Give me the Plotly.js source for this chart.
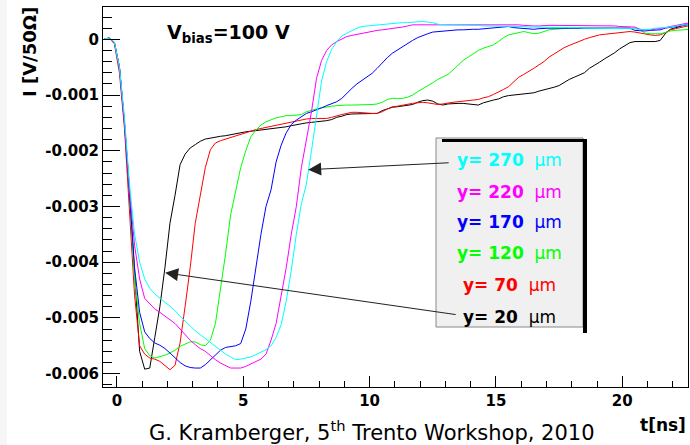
<!DOCTYPE html>
<html><head><meta charset="utf-8">
<script src="https://cdn.plot.ly/plotly-3.0.1.min.js"></script>
<style>html,body{margin:0;padding:0;background:#fff;} #chart{width:690px;height:445px;}</style>
</head><body><div id="chart"></div>
<script>
// time axis of the sampled waveforms [ns]
const T0 = -0.5, DT = 0.2;

// induced current I [V/50 Ohm] for each position y
const i20 = [
 0.01e-3, 0.02e-3, -0.05e-3, -0.5e-3, -1.5e-3, -2.7e-3, -4.2e-3, -5.6e-3, -5.92e-3, -5.9e-3,
 -5.35e-3, -4.8e-3, -4.1e-3, -3.3e-3, -2.8e-3, -2.25e-3, -2.06e-3, -1.95e-3, -1.89e-3, -1.83e-3,
 -1.79e-3, -1.77e-3, -1.75e-3, -1.74e-3, -1.73e-3, -1.71e-3, -1.70e-3, -1.68e-3, -1.66e-3, -1.65e-3,
 -1.64e-3, -1.63e-3, -1.62e-3, -1.61e-3, -1.60e-3, -1.58e-3, -1.57e-3, -1.55e-3, -1.53e-3, -1.51e-3,
 -1.50e-3, -1.49e-3, -1.48e-3, -1.48e-3, -1.46e-3, -1.44e-3, -1.40e-3, -1.38e-3, -1.35e-3, -1.34e-3,
 -1.34e-3, -1.34e-3, -1.34e-3, -1.33e-3, -1.33e-3, -1.28e-3, -1.25e-3, -1.22e-3, -1.21e-3, -1.20e-3,
 -1.18e-3, -1.17e-3, -1.13e-3, -1.10e-3, -1.09e-3, -1.11e-3, -1.16e-3, -1.18e-3, -1.16e-3, -1.15e-3,
 -1.15e-3, -1.15e-3, -1.16e-3, -1.18e-3, -1.18e-3, -1.14e-3, -1.11e-3, -1.09e-3, -1.07e-3, -1.03e-3,
 -1.01e-3, -1.00e-3, -1.00e-3, -0.99e-3, -0.98e-3, -0.96e-3, -0.93e-3, -0.91e-3, -0.89e-3, -0.86e-3,
 -0.83e-3, -0.77e-3, -0.72e-3, -0.68e-3, -0.64e-3, -0.60e-3, -0.52e-3, -0.47e-3, -0.41e-3, -0.35e-3,
 -0.30e-3, -0.24e-3, -0.17e-3, -0.11e-3, -0.06e-3, -0.04e-3, -0.04e-3, -0.05e-3, -0.04e-3, -0.04e-3,
 -0.02e-3, 0.10e-3, 0.18e-3, 0.21e-3, 0.23e-3, 0.26e-3, 0.28e-3
];
const i70 = [
 0.01e-3, 0.02e-3, -0.08e-3, -0.6e-3, -1.6e-3, -3.0e-3, -4.6e-3, -5.5e-3, -5.65e-3, -5.72e-3,
 -5.74e-3, -5.78e-3, -5.86e-3, -5.93e-3, -5.85e-3, -5.45e-3, -4.79e-3, -4.1e-3, -3.3e-3, -2.8e-3,
 -2.3e-3, -1.98e-3, -1.86e-3, -1.82e-3, -1.79e-3, -1.77e-3, -1.73e-3, -1.70e-3, -1.67e-3, -1.64e-3,
 -1.62e-3, -1.60e-3, -1.58e-3, -1.56e-3, -1.54e-3, -1.52e-3, -1.50e-3, -1.48e-3, -1.47e-3, -1.45e-3,
 -1.43e-3, -1.42e-3, -1.42e-3, -1.42e-3, -1.42e-3, -1.40e-3, -1.37e-3, -1.35e-3, -1.33e-3, -1.31e-3,
 -1.31e-3, -1.32e-3, -1.33e-3, -1.33e-3, -1.33e-3, -1.30e-3, -1.25e-3, -1.21e-3, -1.20e-3, -1.18e-3,
 -1.16e-3, -1.15e-3, -1.14e-3, -1.13e-3, -1.14e-3, -1.16e-3, -1.17e-3, -1.16e-3, -1.14e-3, -1.13e-3,
 -1.12e-3, -1.11e-3, -1.10e-3, -1.09e-3, -1.08e-3, -1.05e-3, -1.03e-3, -0.99e-3, -0.95e-3, -0.90e-3,
 -0.85e-3, -0.76e-3, -0.68e-3, -0.63e-3, -0.58e-3, -0.52e-3, -0.46e-3, -0.40e-3, -0.32e-3, -0.26e-3,
 -0.20e-3, -0.15e-3, -0.11e-3, -0.07e-3, -0.03e-3, 0.00e-3, 0.03e-3, 0.06e-3, 0.08e-3, 0.09e-3,
 0.10e-3, 0.11e-3, 0.12e-3, 0.13e-3, 0.14e-3, 0.13e-3, 0.11e-3, 0.09e-3, 0.08e-3, 0.07e-3,
 0.08e-3, 0.12e-3, 0.17e-3, 0.19e-3, 0.21e-3, 0.23e-3, 0.25e-3
];
const i120 = [
 0.01e-3, 0.02e-3, -0.06e-3, -0.5e-3, -1.5e-3, -2.8e-3, -4.3e-3, -5.1e-3, -5.55e-3, -5.68e-3,
 -5.72e-3, -5.70e-3, -5.67e-3, -5.63e-3, -5.58e-3, -5.51e-3, -5.47e-3, -5.43e-3, -5.43e-3, -5.48e-3,
 -5.50e-3, -5.40e-3, -5.10e-3, -4.50e-3, -3.85e-3, -3.15e-3, -2.75e-3, -2.30e-3, -2.00e-3, -1.75e-3,
 -1.63e-3, -1.54e-3, -1.48e-3, -1.44e-3, -1.41e-3, -1.39e-3, -1.37e-3, -1.37e-3, -1.36e-3, -1.35e-3,
 -1.30e-3, -1.27e-3, -1.25e-3, -1.23e-3, -1.21e-3, -1.20e-3, -1.19e-3, -1.18e-3, -1.18e-3, -1.18e-3,
 -1.18e-3, -1.18e-3, -1.18e-3, -1.17e-3, -1.16e-3, -1.13e-3, -1.08e-3, -1.06e-3, -1.06e-3, -1.06e-3,
 -1.04e-3, -1.00e-3, -0.94e-3, -0.89e-3, -0.84e-3, -0.78e-3, -0.72e-3, -0.68e-3, -0.63e-3, -0.55e-3,
 -0.46e-3, -0.38e-3, -0.32e-3, -0.26e-3, -0.20e-3, -0.16e-3, -0.13e-3, -0.10e-3, -0.04e-3, 0.03e-3,
 0.08e-3, 0.10e-3, 0.13e-3, 0.14e-3, 0.12e-3, 0.10e-3, 0.11e-3, 0.14e-3, 0.17e-3, 0.18e-3,
 0.19e-3, 0.20e-3, 0.20e-3, 0.20e-3, 0.20e-3, 0.20e-3, 0.20e-3, 0.20e-3, 0.20e-3, 0.20e-3,
 0.20e-3, 0.20e-3, 0.20e-3, 0.20e-3, 0.20e-3, 0.20e-3, 0.17e-3, 0.11e-3, 0.10e-3, 0.10e-3,
 0.10e-3, 0.12e-3, 0.15e-3, 0.16e-3, 0.17e-3, 0.18e-3, 0.18e-3
];
const i170 = [
 0.01e-3, 0.02e-3, -0.06e-3, -0.5e-3, -1.5e-3, -2.8e-3, -4.1e-3, -4.9e-3, -5.25e-3, -5.37e-3,
 -5.45e-3, -5.49e-3, -5.55e-3, -5.63e-3, -5.72e-3, -5.80e-3, -5.86e-3, -5.89e-3, -5.90e-3, -5.90e-3,
 -5.84e-3, -5.75e-3, -5.66e-3, -5.58e-3, -5.53e-3, -5.51e-3, -5.50e-3, -5.46e-3, -5.20e-3, -4.70e-3,
 -4.10e-3, -3.50e-3, -3.00e-3, -2.70e-3, -2.20e-3, -1.90e-3, -1.68e-3, -1.53e-3, -1.45e-3, -1.39e-3,
 -1.33e-3, -1.30e-3, -1.27e-3, -1.23e-3, -1.19e-3, -1.16e-3, -1.12e-3, -1.06e-3, -0.96e-3, -0.88e-3,
 -0.80e-3, -0.74e-3, -0.67e-3, -0.61e-3, -0.52e-3, -0.42e-3, -0.33e-3, -0.25e-3, -0.19e-3, -0.13e-3,
 -0.07e-3, -0.02e-3, 0.03e-3, 0.07e-3, 0.10e-3, 0.13e-3, 0.14e-3, 0.15e-3, 0.16e-3, 0.17e-3,
 0.17e-3, 0.17e-3, 0.18e-3, 0.18e-3, 0.18e-3, 0.19e-3, 0.20e-3, 0.21e-3, 0.22e-3, 0.23e-3,
 0.23e-3, 0.21e-3, 0.20e-3, 0.19e-3, 0.18e-3, 0.18e-3, 0.19e-3, 0.20e-3, 0.20e-3, 0.20e-3,
 0.20e-3, 0.20e-3, 0.20e-3, 0.20e-3, 0.20e-3, 0.20e-3, 0.20e-3, 0.20e-3, 0.20e-3, 0.20e-3,
 0.20e-3, 0.20e-3, 0.20e-3, 0.20e-3, 0.20e-3, 0.16e-3, 0.15e-3, 0.15e-3, 0.16e-3, 0.16e-3,
 0.17e-3, 0.20e-3, 0.22e-3, 0.23e-3, 0.24e-3, 0.26e-3, 0.27e-3
];
const i220 = [
 0.01e-3, 0.02e-3, -0.06e-3, -0.5e-3, -1.5e-3, -2.7e-3, -3.7e-3, -4.3e-3, -4.65e-3, -4.75e-3,
 -4.84e-3, -4.90e-3, -4.97e-3, -5.03e-3, -5.10e-3, -5.20e-3, -5.30e-3, -5.40e-3, -5.48e-3, -5.55e-3,
 -5.60e-3, -5.68e-3, -5.75e-3, -5.81e-3, -5.86e-3, -5.90e-3, -5.90e-3, -5.90e-3, -5.87e-3, -5.83e-3,
 -5.79e-3, -5.74e-3, -5.65e-3, -5.40e-3, -5.10e-3, -4.60e-3, -4.10e-3, -3.50e-3, -3.00e-3, -2.30e-3,
 -1.80e-3, -1.30e-3, -0.70e-3, -0.38e-3, -0.20e-3, -0.10e-3, -0.04e-3, 0.00e-3, 0.05e-3, 0.07e-3,
 0.09e-3, 0.11e-3, 0.13e-3, 0.15e-3, 0.16e-3, 0.17e-3, 0.18e-3, 0.19e-3, 0.20e-3, 0.22e-3,
 0.24e-3, 0.26e-3, 0.26e-3, 0.26e-3, 0.26e-3, 0.26e-3, 0.26e-3, 0.26e-3, 0.26e-3, 0.26e-3,
 0.26e-3, 0.26e-3, 0.26e-3, 0.27e-3, 0.27e-3, 0.27e-3, 0.27e-3, 0.26e-3, 0.26e-3, 0.26e-3,
 0.26e-3, 0.27e-3, 0.26e-3, 0.25e-3, 0.24e-3, 0.24e-3, 0.24e-3, 0.25e-3, 0.25e-3, 0.25e-3,
 0.25e-3, 0.25e-3, 0.25e-3, 0.24e-3, 0.24e-3, 0.24e-3, 0.25e-3, 0.24e-3, 0.24e-3, 0.24e-3,
 0.24e-3, 0.24e-3, 0.23e-3, 0.23e-3, 0.23e-3, 0.22e-3, 0.18e-3, 0.17e-3, 0.17e-3, 0.18e-3,
 0.19e-3, 0.21e-3, 0.23e-3, 0.25e-3, 0.27e-3, 0.29e-3, 0.30e-3
];
const i270 = [
 0.01e-3, 0.02e-3, -0.05e-3, -0.5e-3, -1.4e-3, -2.6e-3, -3.5e-3, -4.0e-3, -4.3e-3, -4.47e-3,
 -4.57e-3, -4.65e-3, -4.72e-3, -4.79e-3, -4.87e-3, -4.97e-3, -5.06e-3, -5.15e-3, -5.23e-3, -5.30e-3,
 -5.37e-3, -5.43e-3, -5.50e-3, -5.57e-3, -5.65e-3, -5.70e-3, -5.75e-3, -5.74e-3, -5.72e-3, -5.70e-3,
 -5.66e-3, -5.62e-3, -5.57e-3, -5.50e-3, -5.35e-3, -5.12e-3, -4.70e-3, -4.15e-3, -3.50e-3, -2.95e-3,
 -2.60e-3, -2.00e-3, -1.40e-3, -0.75e-3, -0.40e-3, -0.18e-3, -0.04e-3, 0.06e-3, 0.11e-3, 0.16e-3,
 0.20e-3, 0.23e-3, 0.24e-3, 0.25e-3, 0.26e-3, 0.27e-3, 0.28e-3, 0.29e-3, 0.29e-3, 0.30e-3,
 0.30e-3, 0.31e-3, 0.31e-3, 0.32e-3, 0.31e-3, 0.30e-3, 0.27e-3, 0.26e-3, 0.26e-3, 0.26e-3,
 0.26e-3, 0.25e-3, 0.25e-3, 0.25e-3, 0.25e-3, 0.24e-3, 0.24e-3, 0.24e-3, 0.24e-3, 0.24e-3,
 0.24e-3, 0.23e-3, 0.23e-3, 0.23e-3, 0.22e-3, 0.22e-3, 0.22e-3, 0.22e-3, 0.22e-3, 0.22e-3,
 0.22e-3, 0.21e-3, 0.21e-3, 0.21e-3, 0.21e-3, 0.20e-3, 0.20e-3, 0.20e-3, 0.20e-3, 0.20e-3,
 0.20e-3, 0.20e-3, 0.20e-3, 0.20e-3, 0.20e-3, 0.19e-3, 0.17e-3, 0.17e-3, 0.18e-3, 0.20e-3,
 0.20e-3, 0.21e-3, 0.22e-3, 0.24e-3, 0.25e-3, 0.26e-3, 0.27e-3
];

// series, drawn in this order
const positionsUm = [20, 70, 120, 170, 220, 270];
const seriesData = [i20, i70, i120, i170, i220, i270];
const seriesColors = ['#000000', '#ff0000', '#00ff00', '#0000ff', '#ff00ff', '#00ffff'];

// legend (top to bottom)
const legendPositions = [270, 220, 170, 120, 70, 20];
const legendColors = ['#00ffff', '#ff00ff', '#0000ff', '#00ff00', '#ff0000', '#000000'];

// tick labels
const xTickVals = [0, 5, 10, 15, 20];
const xTickText = ['0', '5', '10', '15', '20'];
const yTickVals = [0, -0.001, -0.002, -0.003, -0.004, -0.005, -0.006];
const yTickText = ['0', '-0.001', '-0.002', '-0.003', '-0.004', '-0.005', '-0.006'];

const traces = seriesData.map((ys, i) => ({
  type: 'scatter', mode: 'lines',
  x0: T0, dx: DT, y: ys,
  name: 'y= ' + positionsUm[i] + ' \u03bcm',
  line: {color: seriesColors[i], width: 1, shape: 'linear'},
  hoverinfo: 'skip'
}));

const FB = {family: 'DejaVu Sans', weight: 'bold', color: '#000'};

// paper helpers (plot area 103..688 x 7..387 px)
const L = 103, W = 585, B = 387, H = 380;
const px = v => (v - L) / W;
const py = v => (B - v) / H;

const legendY = [160, 192, 222, 253, 285, 317];
const annotations = [
  {xref: 'paper', yref: 'paper', x: px(29), y: py(52), text: 'I [V/50\u03a9]', textangle: -90,
   showarrow: false, xanchor: 'center', yanchor: 'middle', font: Object.assign({size: 18}, FB)},
  {xref: 'paper', yref: 'paper', x: px(165), y: py(33), text: 'V<sub>bias</sub>=100 V',
   showarrow: false, xanchor: 'left', yanchor: 'middle', font: Object.assign({size: 19}, FB)},
  {xref: 'paper', yref: 'paper', x: px(688), y: py(425), text: 't[ns]',
   showarrow: false, xanchor: 'right', yanchor: 'middle', font: Object.assign({size: 17}, FB)},
  {xref: 'paper', yref: 'paper', x: px(147), y: py(431), text: 'G. Kramberger, 5<sup>th</sup> Trento Workshop, 2010',
   showarrow: false, xanchor: 'left', yanchor: 'middle', font: {family: 'DejaVu Sans', size: 21, color: '#000'}},
  {xref: 'x', yref: 'y', x: 7.57, y: -0.00234, ax: 142, ay: -7, text: '', showarrow: true,
   arrowhead: 2, arrowsize: 2.6, arrowwidth: 1, arrowcolor: '#222', standoff: 0},
  {xref: 'x', yref: 'y', x: 1.91, y: -0.00419, ax: 292, ay: 42, text: '', showarrow: true,
   arrowhead: 2, arrowsize: 2.6, arrowwidth: 1, arrowcolor: '#222', standoff: 0}
];
legendPositions.forEach((p, i) => {
  annotations.push({xref: 'paper', yref: 'paper', x: px(509), y: py(legendY[i]),
    text: '<b>y= ' + p + '</b>\u00a0\u00a0\u03bcm', showarrow: false, xanchor: 'center', yanchor: 'middle',
    font: {family: 'DejaVu Sans', size: 17, color: legendColors[i]}});
});

const shapes = [
  {type: 'rect', xref: 'paper', yref: 'paper', x0: px(0), x1: px(7), y0: py(445), y1: py(0),
   line: {width: 0}, fillcolor: '#f6f6f6', layer: 'below'},
  {type: 'rect', xref: 'paper', yref: 'paper', x0: px(436), x1: px(583), y0: py(327), y1: py(138),
   line: {color: '#888', width: 1}, fillcolor: '#f0f0f0'},
  {type: 'rect', xref: 'paper', yref: 'paper', x0: px(442), x1: px(587), y0: py(142), y1: py(139),
   line: {width: 0}, fillcolor: '#000'},
  {type: 'rect', xref: 'paper', yref: 'paper', x0: px(583), x1: px(587), y0: py(333), y1: py(139),
   line: {width: 0}, fillcolor: '#000'}
];

const layout = {
  width: 690, height: 445,
  margin: {l: 103, r: 2, t: 7, b: 58, pad: 0},
  paper_bgcolor: '#ffffff', plot_bgcolor: '#ffffff',
  showlegend: false,
  xaxis: {
    range: [-0.55, 22.6], showgrid: false, zeroline: false,
    showline: true, mirror: true, linecolor: '#000', linewidth: 1,
    ticks: 'inside', ticklen: 11, tickcolor: '#000', tickwidth: 1,
    tickmode: 'array', tickvals: xTickVals, ticktext: xTickText,
    minor: {tickmode: 'linear', tick0: 0, dtick: 1, ticks: 'inside', ticklen: 6, tickcolor: '#000', showgrid: false},
    tickfont: Object.assign({size: 15}, FB)
  },
  yaxis: {
    range: [-0.00624, 0.00058], showgrid: false, zeroline: false,
    showline: true, mirror: true, linecolor: '#000', linewidth: 1,
    ticks: 'inside', ticklen: 17, tickcolor: '#000', tickwidth: 1,
    tickmode: 'array', tickvals: yTickVals, ticktext: yTickText,
    minor: {tickmode: 'linear', tick0: 0, dtick: 0.0002, ticks: 'inside', ticklen: 9, tickcolor: '#000', showgrid: false},
    tickfont: Object.assign({size: 15}, FB)
  },
  annotations: annotations,
  shapes: shapes
};

Plotly.newPlot('chart', traces, layout, {displayModeBar: false, staticPlot: true});
</script>
</body></html>
